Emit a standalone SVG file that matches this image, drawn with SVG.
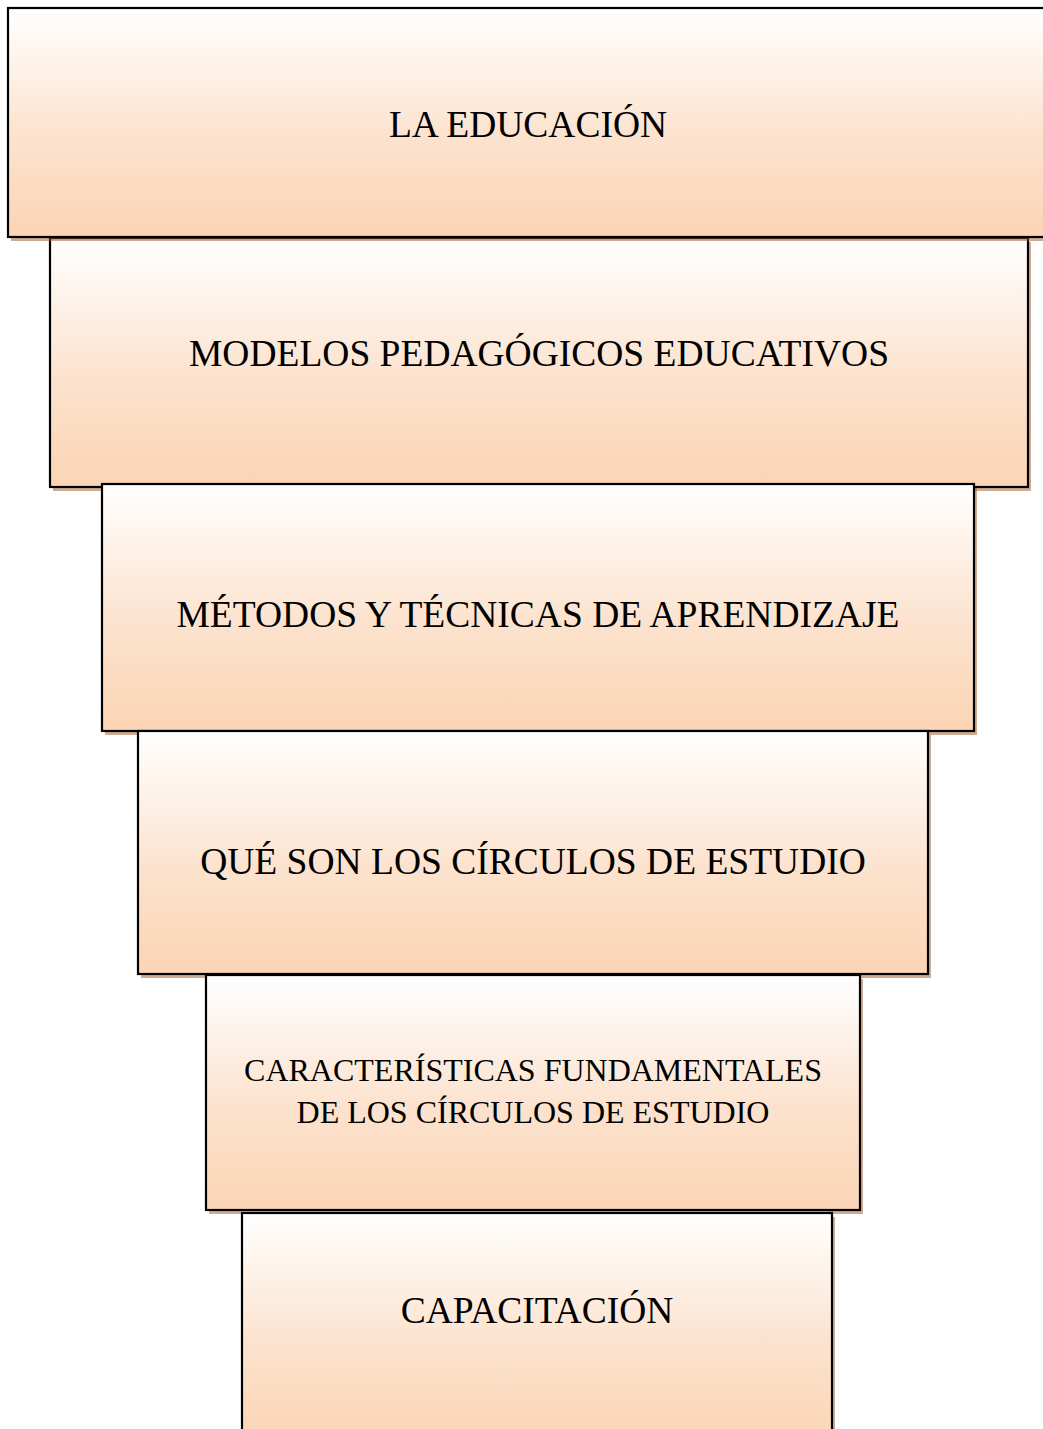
<svg xmlns="http://www.w3.org/2000/svg" width="1043" height="1429" viewBox="0 0 1043 1429">
<defs>
<linearGradient id="g" x1="0" y1="0" x2="0" y2="1">
<stop offset="0" stop-color="#FFFFFF"/>
<stop offset="0.55" stop-color="#FCE3CF"/>
<stop offset="1" stop-color="#FBD4B4"/>
</linearGradient>
<style>
.sh{fill:#A0582A;fill-opacity:0.5}
.bx{fill:url(#g);stroke:#000;stroke-width:2.2}
.t{font-family:"Liberation Serif","Times New Roman",serif;fill:#000;text-anchor:middle}
.t37{font-size:37.5px}
.t32{font-size:32px}
</style>
</defs>
<rect width="1043" height="1429" fill="#fff"/>
<g id="node2">
<rect class="sh" x="53" y="242" width="978" height="249"/>
<rect class="bx" x="50" y="238" width="978" height="249"/>
<text class="t t37" x="539" y="366">MODELOS PEDAGÓGICOS EDUCATIVOS</text>
</g>
<g id="node1">
<rect class="sh" x="11" y="12" width="1045" height="229"/>
<rect class="bx" x="8" y="8" width="1045" height="229"/>
<text class="t t37" x="528" y="137">LA EDUCACIÓN</text>
</g>
<g id="node3">
<rect class="sh" x="105" y="488" width="872" height="247"/>
<rect class="bx" x="102" y="484" width="872" height="247"/>
<text class="t t37" x="538" y="627">MÉTODOS Y TÉCNICAS DE APRENDIZAJE</text>
</g>
<g id="node4">
<rect class="sh" x="141" y="735" width="790" height="243"/>
<rect class="bx" x="138" y="731" width="790" height="243"/>
<text class="t t37" x="533" y="874">QUÉ SON LOS CÍRCULOS DE ESTUDIO</text>
</g>
<g id="node5">
<rect class="sh" x="209" y="979" width="654" height="235"/>
<rect class="bx" x="206" y="975" width="654" height="235"/>
<text class="t t32" x="533" y="1081">CARACTERÍSTICAS FUNDAMENTALES</text>
<text class="t t32" x="533" y="1123">DE LOS CÍRCULOS DE ESTUDIO</text>
</g>
<g id="node6">
<rect class="sh" x="245" y="1217" width="590" height="230"/>
<rect class="bx" x="242" y="1213" width="590" height="230"/>
<text class="t t37" x="537" y="1323">CAPACITACIÓN</text>
</g>
<g id="connectors"></g>
</svg>
